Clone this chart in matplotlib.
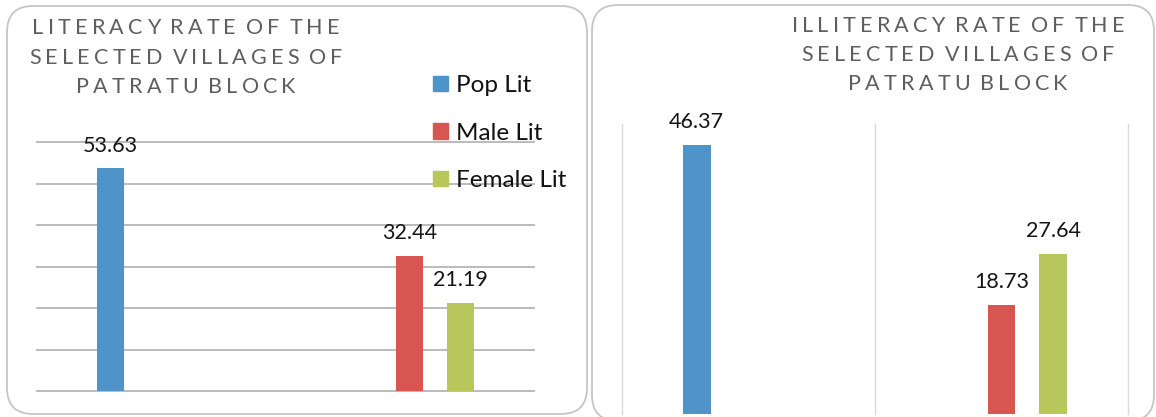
import numpy as np
import matplotlib.pyplot as plt
from matplotlib.patches import FancyBboxPatch, Patch
from matplotlib.font_manager import FontProperties

W, H = 1156, 417
FONT = ['Lato', 'DejaVu Sans']
plt.rcParams['font.family'] = FONT

# two unnamed groups: total population in the first, male / female in the second
series_names = ['Pop Lit', 'Male Lit', 'Female Lit']
lit_pop = [53.63, np.nan]
lit_male = [np.nan, 32.44]
lit_female = [np.nan, 21.19]
illit_pop = [46.37, np.nan]
illit_male = [np.nan, 18.73]
illit_female = [np.nan, 27.64]

lit_title = ['LITERACY RATE OF THE', 'SELECTED VILLAGES OF', 'PATRATU BLOCK']
illit_title = ['ILLITERACY RATE OF THE', 'SELECTED VILLAGES OF', 'PATRATU BLOCK']

colors = ['#4E94C9', '#D85652', '#B7C75B']
offsets = [-0.205, 0.0, 0.205]
bar_w = 0.11

fig = plt.figure(figsize=(W / 100, H / 100), dpi=100)

# pixel-space background layer for the rounded panels
bg = fig.add_axes([0, 0, 1, 1])
bg.set_xlim(0, W)
bg.set_ylim(H, 0)
bg.axis('off')
for x0, y0, x1, y1 in [(7, 6, 587, 414), (592, 5, 1154, 421)]:
    bg.add_patch(FancyBboxPatch((x0, y0), x1 - x0, y1 - y0,
                                boxstyle='round,pad=0,rounding_size=26',
                                fc='white', ec='#c6c6c6', lw=1.3))


def px_axes(x0, y_top, x1, y_bot):
    ax = fig.add_axes([x0 / W, 1 - y_bot / H, (x1 - x0) / W, (y_bot - y_top) / H])
    ax.patch.set_alpha(0)
    for s in ax.spines.values():
        s.set_visible(False)
    ax.tick_params(length=0, labelbottom=False, labelleft=False)
    ax.set_xlim(-0.5, 1.5)
    return ax


def draw_bars(ax, data):
    x = np.arange(2)
    for vals, off, c in zip(data, offsets, colors):
        ax.bar(x + off, vals, bar_w, color=c, zorder=3)
        for xi, v in zip(x, vals):
            if np.isfinite(v):
                ax.annotate(f'{v:.2f}', (xi + off, v), xytext=(0, 16.5),
                            textcoords='offset points', ha='center', va='center',
                            fontsize=15.5, color='#151515', zorder=4)


def tracked_title(lines, cx, baselines, size=15.5, track=4.2, gap=10):
    r = fig.canvas.get_renderer()
    prop = FontProperties(family=FONT, size=size)
    for text, base in zip(lines, baselines):
        widths = []
        for ch in text:
            if ch == ' ':
                widths.append(None)
            else:
                widths.append(r.get_text_width_height_descent(ch, prop, ismath=False)[0])
        total = sum(w for w in widths if w) + gap * text.count(' ')
        total += track * sum(1 for i in range(len(text) - 1)
                             if text[i] != ' ' and text[i + 1] != ' ')
        x = cx - total / 2
        for i, (ch, w) in enumerate(zip(text, widths)):
            if w is None:
                x += gap
                continue
            fig.text(x / W, 1 - base / H, ch, fontproperties=prop,
                     color='#5e5e5e', ha='left', va='baseline')
            x += w
            if i + 1 < len(text) and text[i + 1] != ' ':
                x += track


# literacy chart with horizontal gridlines
ax1 = px_axes(37, 142, 534, 391)
ax1.set_ylim(0, 60)
ax1.set_yticks(np.arange(0, 61, 10))
ax1.set_xticks([])
ax1.yaxis.grid(True, color='#b5b5b5', lw=1.3, zorder=0)
for gl in ax1.get_ygridlines():
    gl.set_clip_on(False)
draw_bars(ax1, [lit_pop, lit_male, lit_female])

# illiteracy chart with vertical category separators
ax2 = px_axes(622, 124, 1128, 414)
ax2.set_ylim(0, 50)
ax2.set_yticks([])
ax2.set_xticks([-0.5, 0.5, 1.5])
ax2.xaxis.grid(True, color='#dadada', lw=1.0, zorder=0)
for gl in ax2.get_xgridlines():
    gl.set_clip_on(False)
draw_bars(ax2, [illit_pop, illit_male, illit_female])

tracked_title(lit_title, 186, [34, 63.5, 93])
tracked_title(illit_title, 958, [32, 61, 90])

handles = [Patch(color=c, label=n) for c, n in zip(colors, series_names)]
fig.legend(handles=handles, loc='center left', bbox_to_anchor=(433 / W, 1 - 133 / H),
           frameon=False, fontsize=17.5, handlelength=0.6, handleheight=0.6,
           handletextpad=0.33, labelspacing=1.09, borderpad=0, borderaxespad=0,
           labelcolor='#111111')

fig.savefig('out.png', dpi=100)
